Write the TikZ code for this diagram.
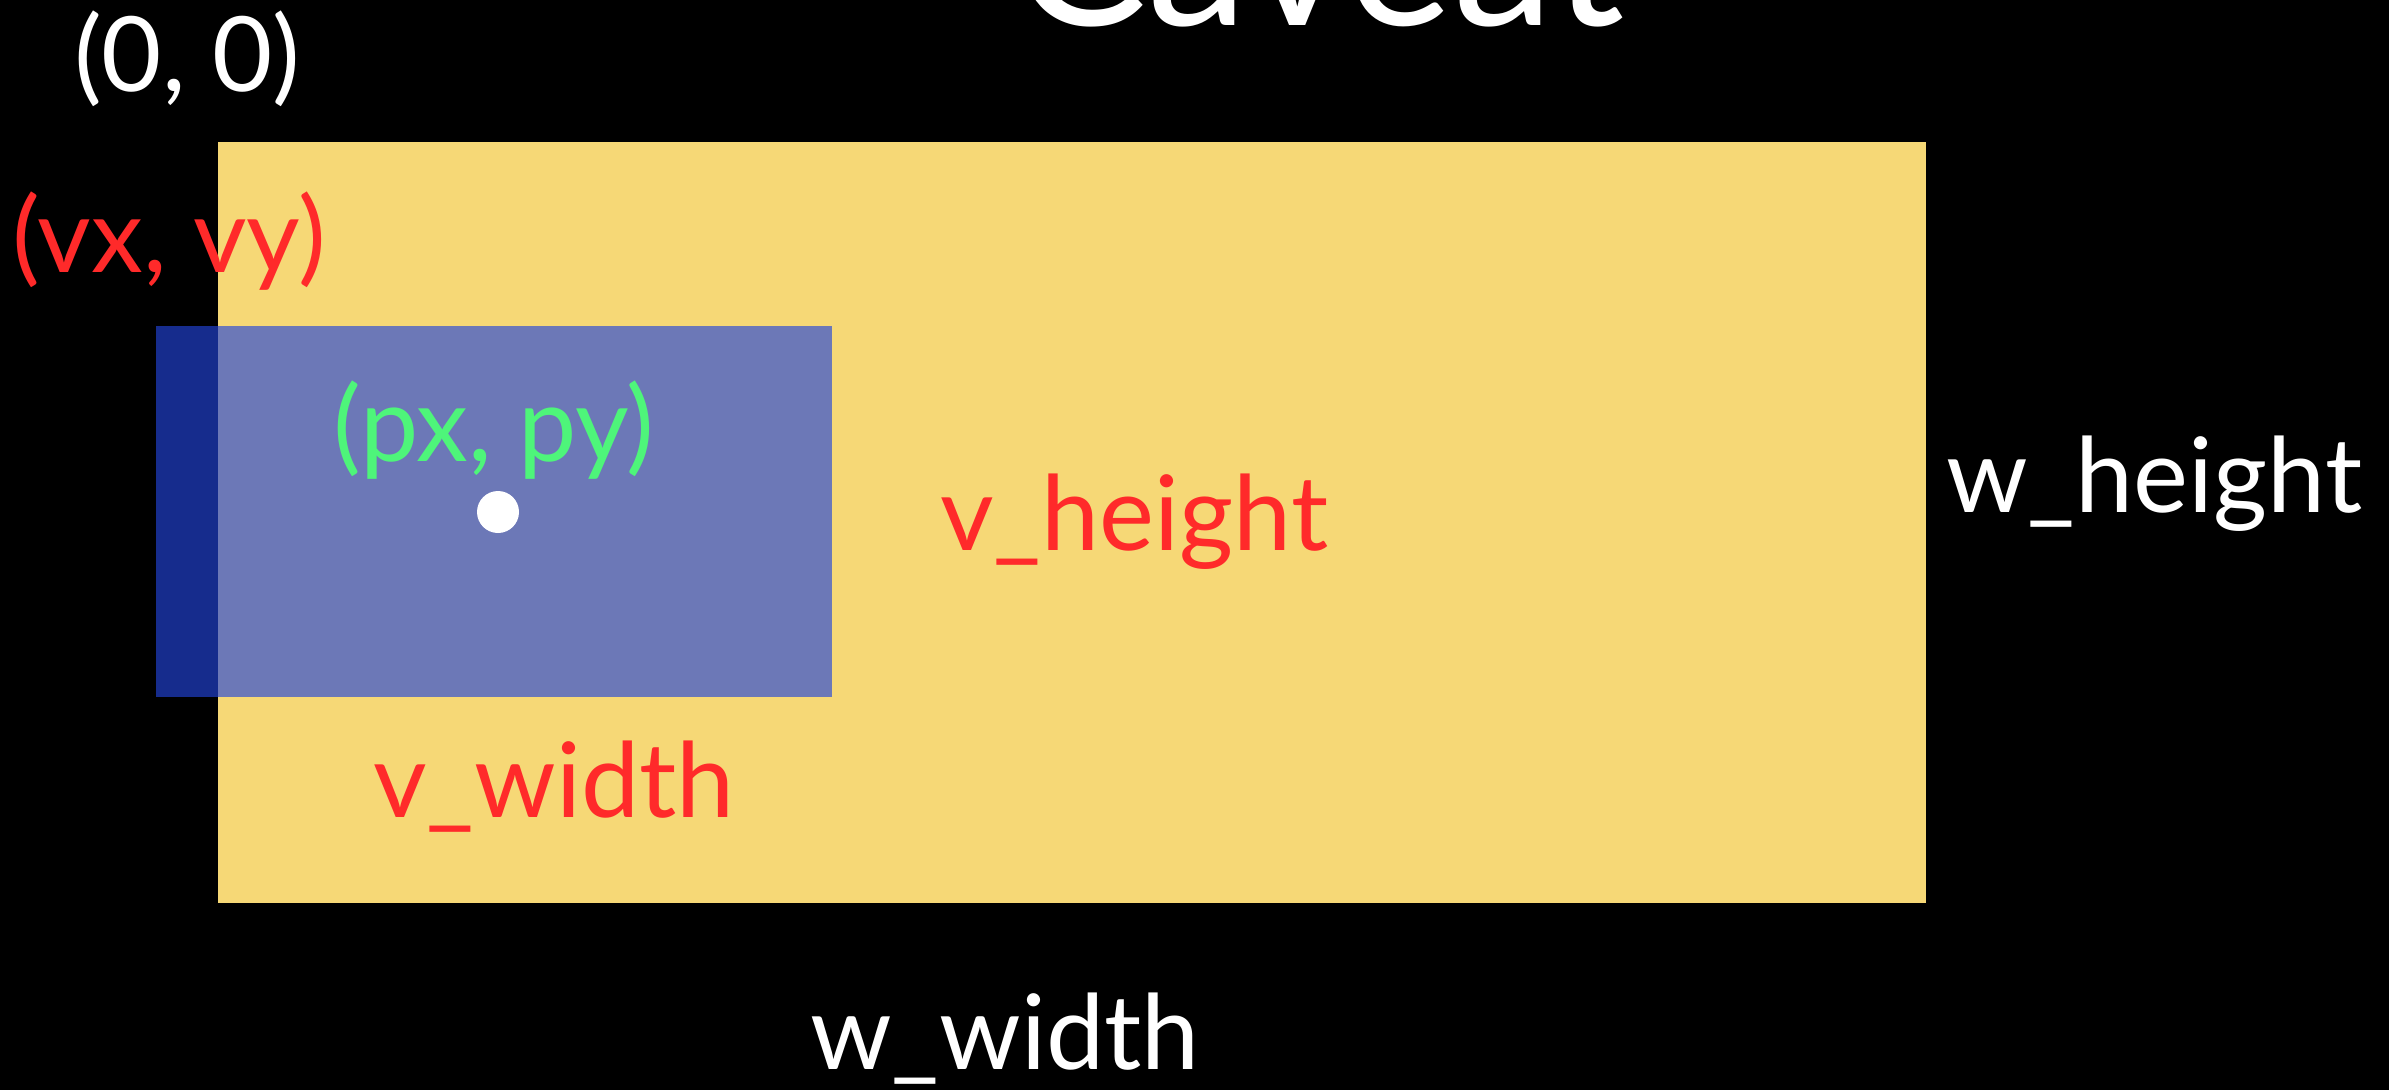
\documentclass[tikz,border=0pt]{standalone}
\usepackage{fontspec}
\setmainfont{Lato}
\definecolor{wyellow}{RGB}{246,216,118}
\definecolor{vblue}{RGB}{35,69,218}
\definecolor{lred}{RGB}{255,42,42}
\definecolor{lgreen}{RGB}{78,245,122}
\tikzset{
  lbl/.style={anchor=base west, inner sep=0pt, font=\fontsize{104}{116}\selectfont},
  ttl/.style={anchor=base west, inner sep=0pt, font=\fontsize{202}{222}\selectfont, text=white}
}
\begin{document}
\begin{tikzpicture}[x=1pt,y=-1pt]
\useasboundingbox (0,0) rectangle (2389,1090);
\fill[black] (0,0) rectangle (2389,1090);
\clip (0,0) rectangle (2389,1090);
\fill[wyellow] (218,142) rectangle (1926,903);
\fill[vblue, opacity=0.65] (156,326) rectangle (832,697);
\fill[white] (498,512) circle (21pt);
\node[ttl] (title) at (1012,25) {Caveat};
\node[lbl, text=white] (origin) at (74,91) {(0, 0)};
\node[lbl, text=lred] (vxy) at (12,272) {(vx, vy)};
\node[lbl, text=lgreen] (pxy) at (333,461) {(px, py)};
\node[lbl, text=lred] (vh) at (940,550) {v\_height};
\node[lbl, text=lred] (vw) at (373,817) {v\_width};
\node[lbl, text=white] (wh) at (1946,512) {w\_height};
\node[lbl, text=white] (ww) at (810,1069) {w\_width};
\end{tikzpicture}
\end{document}
